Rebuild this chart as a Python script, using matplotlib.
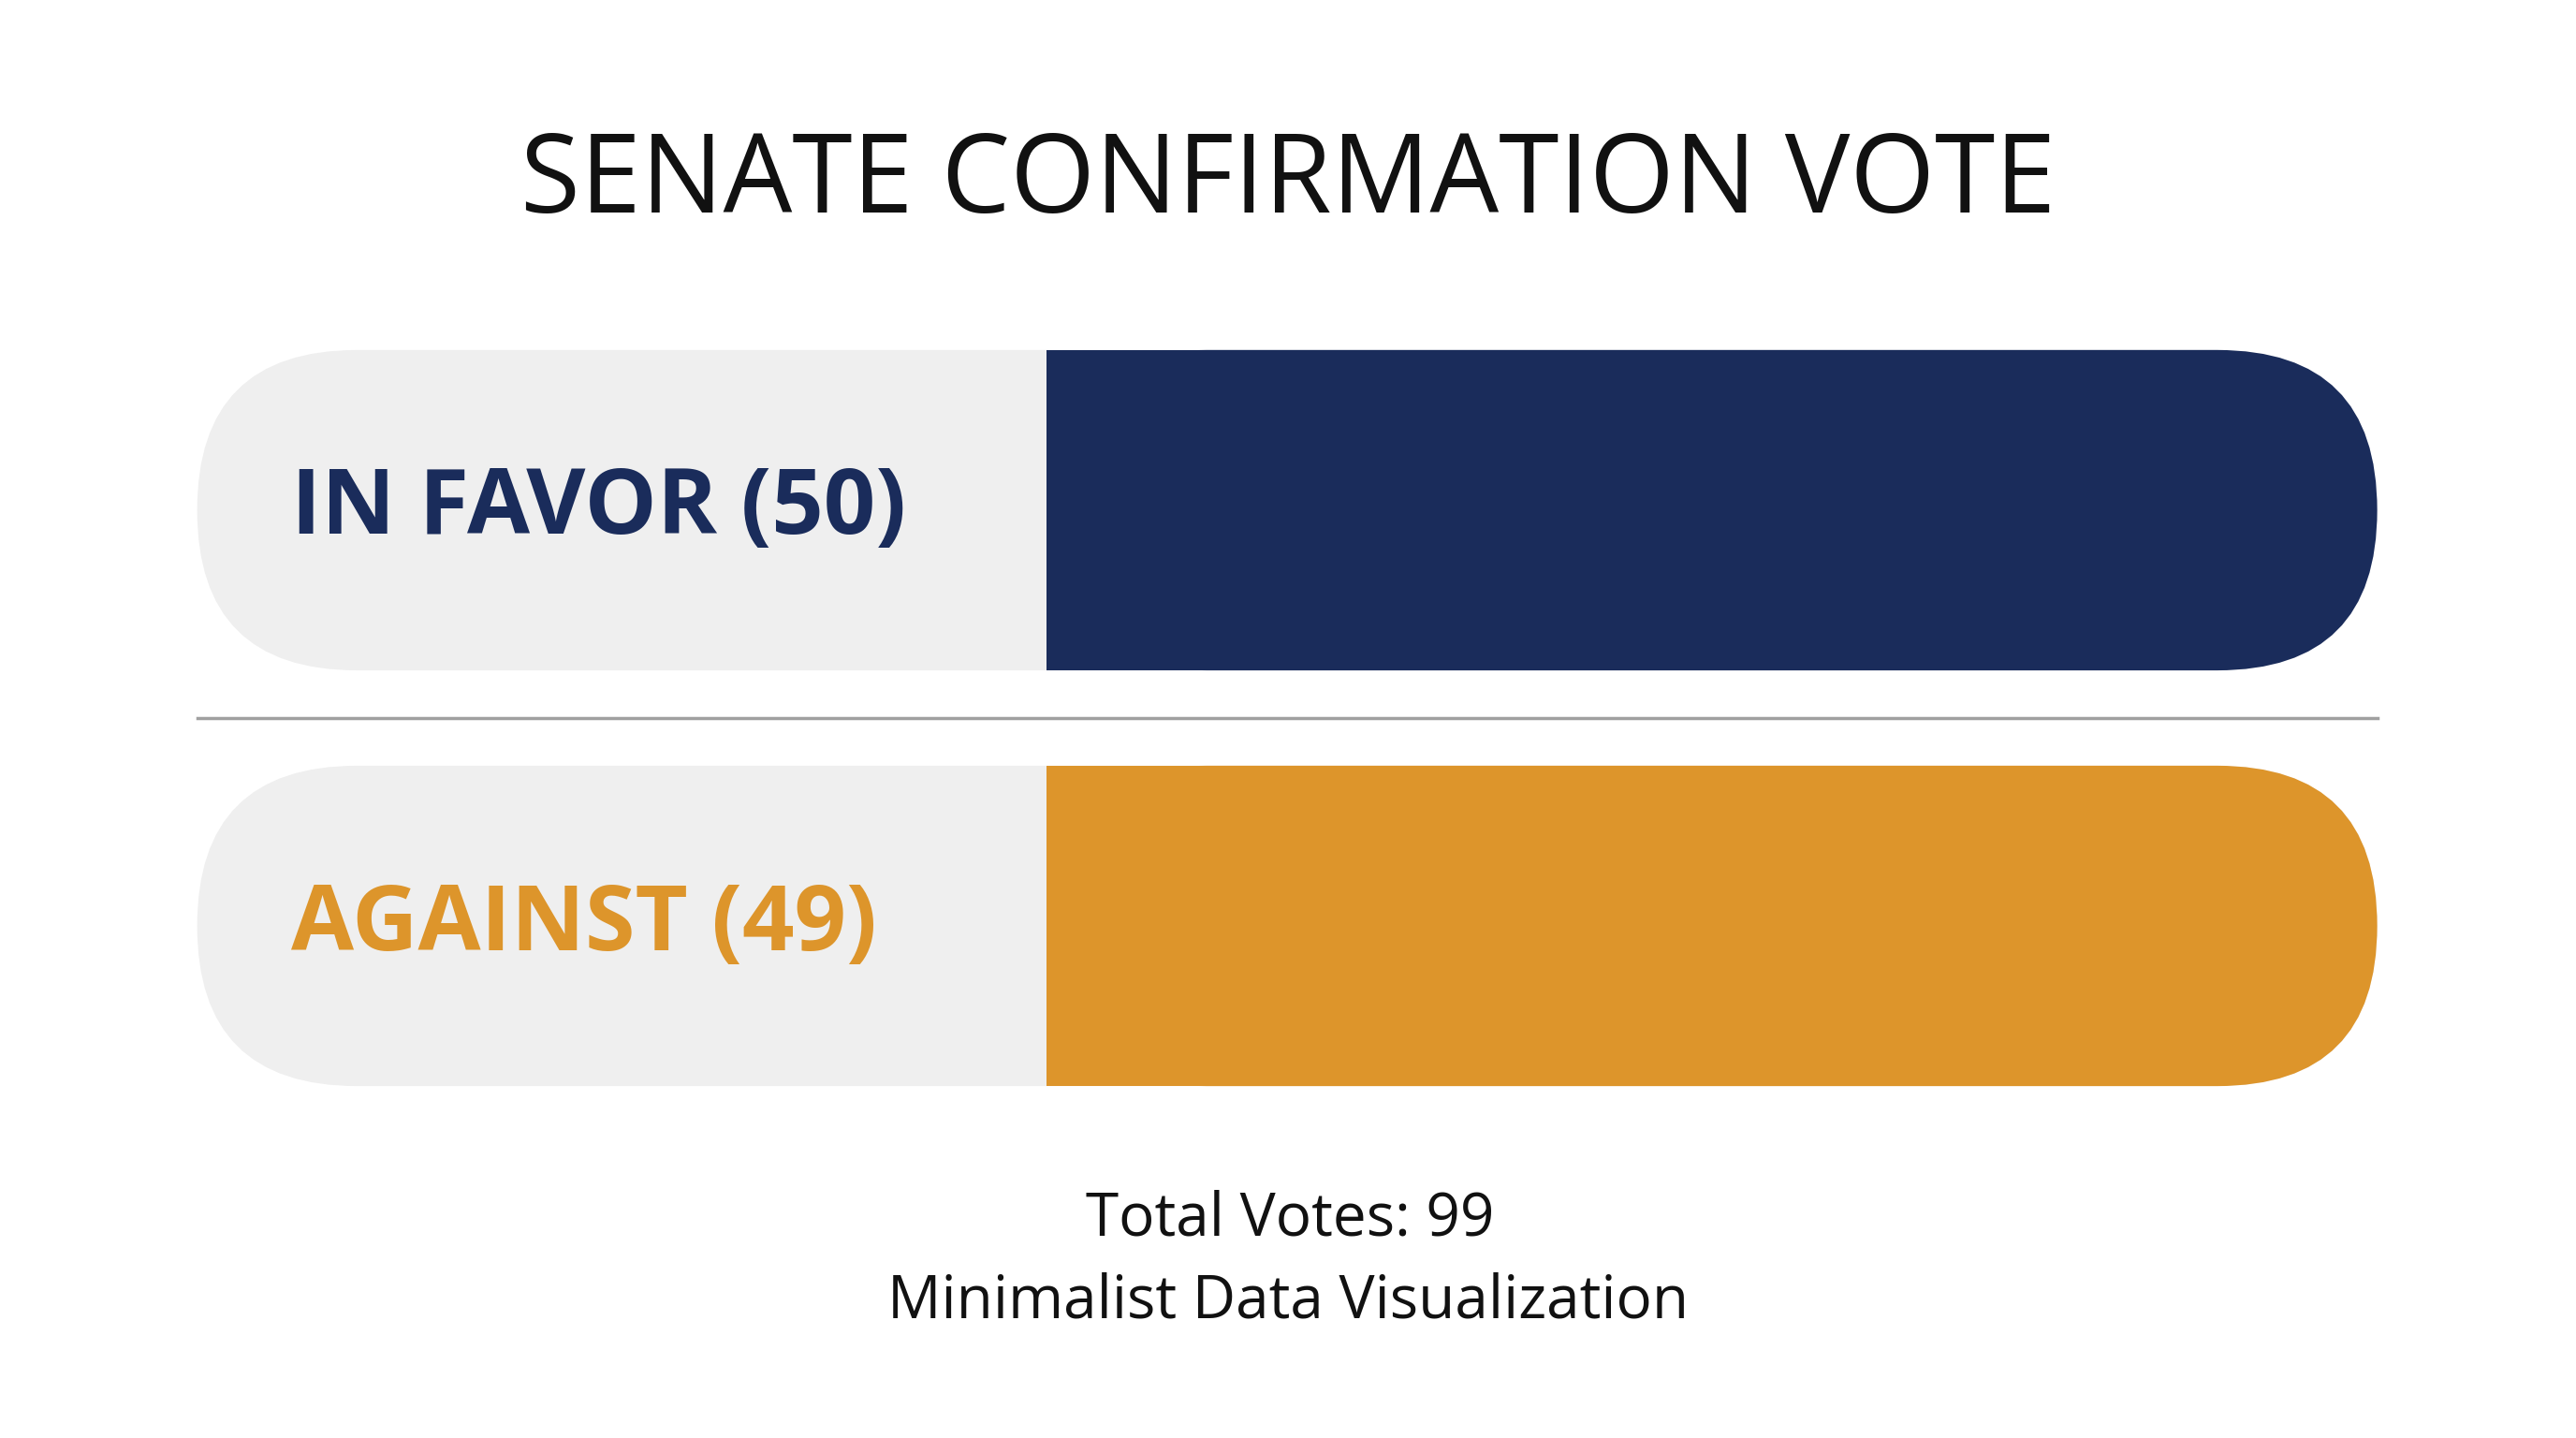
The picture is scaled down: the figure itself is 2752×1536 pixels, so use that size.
import matplotlib
matplotlib.use("Agg")
import matplotlib.pyplot as plt
from matplotlib.patches import FancyBboxPatch, Rectangle

categories = ["IN FAVOR", "AGAINST"]
votes = [50, 49]
colors = ["#1a2c5b", "#dd952b"]
title = "SENATE CONFIRMATION VOTE"
subtitle = "Minimalist Data Visualization"

W, H = 1568, 1568 * 1536 / 2752
fig = plt.figure(figsize=(27.52, 15.36), dpi=100)
ax = fig.add_axes([0, 0, 1, 1])
ax.set_xlim(0, W)
ax.set_ylim(H, 0)
ax.axis("off")
fam = ["Open Sans", "DejaVu Sans"]

ax.text(W / 2, 112, title, ha="center", va="center", fontsize=84, family=fam, color="#111111")

x0, x1, split = 120, 1447, 637
tops = [213, 466]
h = 195
r = h / 2
for cat, v, c, top in zip(categories, votes, colors, tops):
    ax.add_patch(FancyBboxPatch((x0, top), x1 - x0, h,
                 boxstyle=f"round,pad=0,rounding_size={r}", fc="#efefef", ec="none"))
    ax.add_patch(FancyBboxPatch((split, top), x1 - split, h,
                 boxstyle=f"round,pad=0,rounding_size={r}", fc=c, ec="none"))
    ax.add_patch(Rectangle((split, top), r + 5, h, fc=c, ec="none"))
    ax.text(177, top + h / 2, f"{cat} ({v})", ha="left", va="center",
            fontsize=70, fontweight="bold", family=fam, color=c)

ax.plot([x0, x1], [437, 437], color="#a0a0a0", lw=2.5)
ax.text(W / 2 + 1, 742, f"Total Votes: {sum(votes)}", ha="center", va="center",
        fontsize=46, family=fam, color="#111111")
ax.text(W / 2, 792, subtitle, ha="center", va="center", fontsize=46, family=fam, color="#111111")

fig.savefig("out.png", dpi=100, facecolor="white")
